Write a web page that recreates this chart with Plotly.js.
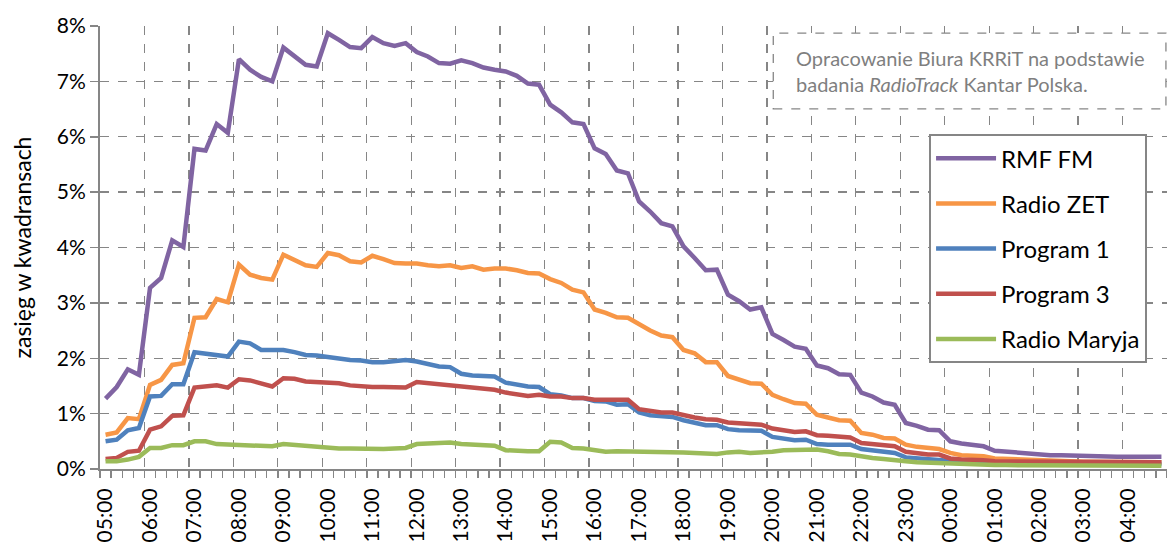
<!DOCTYPE html>
<html>
<head>
<meta charset="utf-8">
<script src="https://cdn.plot.ly/plotly-3.0.1.min.js"></script>
<style>html,body{margin:0;padding:0;background:#fff;}#chart{width:1167px;height:548px;}</style>
</head>
<body>
<div id="chart"></div>
<script>
// Hour labels (every 4th quarter-hour category)
const hourLabels = ['05:00','06:00','07:00','08:00','09:00','10:00','11:00','12:00','13:00','14:00','15:00','16:00',
  '17:00','18:00','19:00','20:00','21:00','22:00','23:00','00:00','01:00','02:00','03:00','04:00'];

// Reach per quarter-hour (percent), 05:00 ... 04:45
const rmfFM = [1.27,1.48,1.80,1.70,3.27,3.45,4.13,4.01,5.78,5.75,6.23,6.07,7.40,7.21,7.08,7.00,
  7.61,7.46,7.30,7.27,7.87,7.75,7.62,7.60,7.80,7.69,7.64,7.69,7.53,7.45,7.33,7.32,
  7.38,7.33,7.25,7.21,7.18,7.10,6.96,6.94,6.58,6.44,6.26,6.23,5.79,5.69,5.39,5.34,
  4.83,4.65,4.44,4.38,4.02,3.81,3.59,3.60,3.15,3.03,2.88,2.92,2.44,2.33,2.21,2.17,
  1.87,1.82,1.71,1.70,1.38,1.31,1.20,1.16,0.83,0.78,0.71,0.70,0.50,0.46,0.43,0.41,
  0.33,0.31,0.30,0.29,0.27,0.25,0.25,0.24,0.23,0.23,0.22,0.22,0.22,0.22,0.22,0.22];
const radioZET = [0.62,0.66,0.92,0.90,1.52,1.61,1.88,1.91,2.73,2.74,3.07,3.01,3.69,3.51,3.45,3.42,
  3.87,3.78,3.68,3.65,3.90,3.86,3.75,3.73,3.85,3.79,3.72,3.71,3.71,3.68,3.66,3.68,
  3.63,3.66,3.60,3.62,3.62,3.59,3.54,3.53,3.43,3.36,3.24,3.19,2.88,2.82,2.74,2.73,
  2.61,2.50,2.41,2.38,2.15,2.09,1.93,1.93,1.68,1.62,1.55,1.54,1.34,1.26,1.19,1.18,
  0.98,0.93,0.88,0.87,0.65,0.62,0.56,0.55,0.44,0.40,0.37,0.36,0.29,0.25,0.24,0.23,
  0.19,0.18,0.17,0.17,0.16,0.15,0.14,0.14,0.13,0.13,0.13,0.12,0.12,0.12,0.12,0.12];
const program1 = [0.50,0.53,0.70,0.74,1.31,1.32,1.53,1.53,2.11,2.09,2.05,2.03,2.30,2.27,2.15,2.14,
  2.15,2.11,2.06,2.05,2.02,2.00,1.97,1.96,1.93,1.93,1.95,1.97,1.94,1.90,1.85,1.84,
  1.72,1.69,1.67,1.67,1.56,1.52,1.49,1.48,1.35,1.33,1.28,1.28,1.23,1.22,1.16,1.17,
  1.02,0.97,0.95,0.94,0.88,0.83,0.79,0.79,0.72,0.70,0.69,0.69,0.58,0.54,0.52,0.53,
  0.45,0.44,0.43,0.44,0.36,0.33,0.30,0.29,0.21,0.19,0.17,0.17,0.14,0.13,0.12,0.12,
  0.11,0.11,0.10,0.10,0.10,0.10,0.09,0.09,0.09,0.09,0.09,0.09,0.09,0.09,0.09,0.09];
const program3 = [0.18,0.20,0.31,0.33,0.71,0.77,0.96,0.97,1.47,1.48,1.51,1.47,1.62,1.60,1.54,1.49,
  1.64,1.63,1.58,1.57,1.57,1.55,1.51,1.49,1.48,1.48,1.47,1.47,1.57,1.55,1.52,1.52,
  1.48,1.47,1.45,1.43,1.38,1.34,1.32,1.34,1.31,1.31,1.28,1.28,1.25,1.25,1.26,1.25,
  1.08,1.05,1.02,1.02,0.97,0.93,0.90,0.89,0.84,0.82,0.80,0.80,0.73,0.70,0.67,0.68,
  0.61,0.60,0.58,0.57,0.47,0.45,0.43,0.41,0.31,0.28,0.26,0.26,0.19,0.17,0.17,0.16,
  0.14,0.14,0.13,0.13,0.13,0.12,0.12,0.12,0.12,0.12,0.12,0.12,0.12,0.12,0.12,0.12];
const radioMaryja = [0.14,0.14,0.17,0.22,0.38,0.38,0.43,0.43,0.50,0.50,0.45,0.44,0.44,0.44,0.41,0.41,
  0.45,0.43,0.41,0.40,0.37,0.37,0.37,0.36,0.36,0.36,0.37,0.38,0.45,0.46,0.48,0.48,
  0.45,0.44,0.43,0.42,0.34,0.32,0.32,0.32,0.49,0.48,0.38,0.37,0.33,0.31,0.32,0.32,
  0.32,0.32,0.31,0.31,0.30,0.29,0.28,0.27,0.30,0.31,0.29,0.29,0.31,0.34,0.35,0.35,
  0.35,0.32,0.27,0.26,0.22,0.20,0.18,0.17,0.14,0.12,0.11,0.11,0.10,0.09,0.08,0.08,
  0.07,0.07,0.07,0.07,0.07,0.07,0.07,0.06,0.06,0.06,0.06,0.06,0.06,0.06,0.06,0.06];

const seriesNames = ['RMF FM','Radio ZET','Program 1','Program 3','Radio Maryja'];
const seriesData = [rmfFM, radioZET, program1, program3, radioMaryja];
const seriesColors = ['#8064A2','#F79646','#4F81BD','#C0504D','#9BBB59'];

const idx = rmfFM.map((_, i) => i);
const perHour = 4;
const labelVals = hourLabels.map((_, k) => k * perHour);
const boundaryVals = [];
for (let k = 0; k <= hourLabels.length; k++) boundaryVals.push(k * perHour - 0.5);

const FONT = 'Lato, "Open Sans", sans-serif';
const GRID = '#868686';

// first series on the label axis (x), the others on the overlaid grid axis (x2); both share one range
const traces = seriesNames.map((n, s) => ({
  type: 'scatter', mode: 'lines', name: n, x: idx, y: seriesData[s],
  xaxis: s === 0 ? 'x' : 'x2', yaxis: 'y', legendgroup: 'g' + s,
  line: {color: seriesColors[s], width: 4.5, shape: 'linear'},
  hoverinfo: 'skip'
}));

const layout = {
  width: 1167, height: 548,
  margin: {l: 100, r: 0, t: 26, b: 79, pad: 0},
  paper_bgcolor: '#ffffff', plot_bgcolor: '#ffffff',
  font: {family: FONT, color: '#000000', size: 21},
  showlegend: true,
  legend: {
    x: 0.777, y: 0.756, xanchor: 'left', yanchor: 'top',
    bgcolor: '#ffffff', bordercolor: GRID, borderwidth: 2,
    font: {family: FONT, size: 24, color: '#000000'},
    itemwidth: 60, tracegroupgap: 11, traceorder: 'grouped'
  },
  xaxis: {
    range: [-0.5, 95.5], fixedrange: true,
    tickmode: 'array', tickvals: labelVals, ticktext: hourLabels,
    tickangle: -90, ticks: 'outside', ticklen: 9, tickcolor: 'rgba(0,0,0,0)',
    tickfont: {family: FONT, size: 21, color: '#000000'},
    showgrid: false, zeroline: false,
    showline: true, linecolor: GRID, linewidth: 2
  },
  xaxis2: {
    overlaying: 'x', anchor: 'y', side: 'bottom',
    range: [-0.5, 95.5], fixedrange: true,
    tickmode: 'array', tickvals: boundaryVals, showticklabels: false,
    ticks: 'outside', ticklen: 8, tickcolor: GRID, tickwidth: 1.5,
    showgrid: true, gridcolor: GRID, griddash: 'dash', gridwidth: 1.3,
    minor: {tickmode: 'linear', tick0: -0.5, dtick: 1, ticks: 'outside', ticklen: 8, tickcolor: GRID, tickwidth: 1.3, showgrid: false},
    zeroline: false, showline: false
  },
  yaxis: {
    range: [0, 8], fixedrange: true, dtick: 1, tick0: 0, ticksuffix: '%',
    ticks: 'outside', ticklen: 8, tickcolor: GRID, tickwidth: 1.5,
    tickfont: {family: FONT, size: 21, color: '#000000'},
    showgrid: true, gridcolor: GRID, griddash: 'dash', gridwidth: 1.3,
    zeroline: false, showline: true, linecolor: GRID, linewidth: 2,
    title: {text: 'zasięg w kwadransach', font: {family: FONT, size: 23, color: '#000000'}, standoff: 19}
  },
  shapes: [{
    type: 'rect', xref: 'paper', yref: 'paper', layer: 'above',
    x0: 0.631, x1: 0.999, y0: 0.813, y1: 0.984,
    line: {color: GRID, width: 1.3, dash: 'dash'}, fillcolor: '#ffffff'
  }],
  annotations: [{
    xref: 'paper', yref: 'paper', x: 0.650, y: 0.898, xanchor: 'left', yanchor: 'middle',
    align: 'left', showarrow: false,
    text: 'Opracowanie Biura KRRiT na podstawie<br>badania <i>RadioTrack</i> Kantar Polska.',
    font: {family: FONT, size: 20, color: '#7f7f7f'}
  }]
};

Plotly.newPlot('chart', traces, layout, {staticPlot: true, displayModeBar: false});
</script>
</body>
</html>
